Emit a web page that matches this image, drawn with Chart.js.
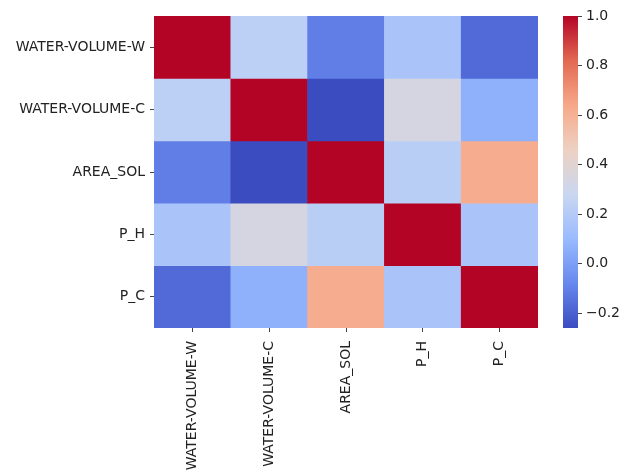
<!DOCTYPE html>
<html>
<head>
<meta charset="utf-8">
<script src="https://cdn.jsdelivr.net/npm/chart.js@4/dist/chart.umd.min.js"></script>
<style>
  body { margin: 0; background: #fff; }
  #wrap { position: relative; width: 620px; height: 470px; overflow: hidden; }
  #heat { position: absolute; left: 0; top: 0; }
  #bar { position: absolute; left: 563px; top: 0; }
</style>
</head>
<body>
<div id="wrap">
  <canvas id="heat" width="620" height="470"></canvas>
  <canvas id="bar" width="57" height="470"></canvas>
</div>
<script>
"use strict";

// названия переменных (строки и столбцы)
const names = ["WATER-VOLUME-W", "WATER-VOLUME-C", "AREA_SOL", "P_H", "P_C"];

// корреляции по строкам
const rowW = [1.0, 0.23, -0.11, 0.16, -0.17];
const rowC = [0.23, 1.0, -0.26, 0.34, 0.06];
const rowArea = [-0.11, -0.26, 1.0, 0.22, 0.62];
const rowPH = [0.16, 0.34, 0.22, 1.0, 0.16];
const rowPC = [-0.17, 0.06, 0.62, 0.16, 1.0];
const rows = [rowW, rowC, rowArea, rowPH, rowPC];

// шкала цвета
const vMin = -0.26;
const vMax = 1.0;
const barTicks = [-0.2, 0.0, 0.2, 0.4, 0.6, 0.8, 1.0];

// палитра coolwarm
const stops = ["#3b4cc0", "#6788ee", "#9abbff", "#c9d7f0", "#edd1c2", "#f7a889", "#e26952", "#b40426"];

const font = { family: "'DejaVu Sans', sans-serif", size: 14 };
const textColor = "#222";

function hexToRgb(h) {
  return [1, 3, 5].map((i) => parseInt(h.substr(i, 2), 16));
}

function colorFor(v) {
  let t = (v - vMin) / (vMax - vMin);
  t = Math.max(0, Math.min(1, t));
  const pos = t * (stops.length - 1);
  const i = Math.min(Math.floor(pos), stops.length - 2);
  const f = pos - i;
  const a = hexToRgb(stops[i]);
  const b = hexToRgb(stops[i + 1]);
  const c = a.map((x, k) => Math.round(x + (b[k] - x) * f));
  return "rgb(" + c.join(",") + ")";
}

// каждая строка - набор плавающих столбцов [r, r+1]
const datasets = rows.map((row, r) => ({
  data: row.map(() => [r, r + 1]),
  backgroundColor: row.map(colorFor),
  borderWidth: 0,
  barPercentage: 1,
  categoryPercentage: 1,
  grouped: false,
}));

new Chart(document.getElementById("heat"), {
  type: "bar",
  data: { labels: names, datasets: datasets },
  options: {
    responsive: false,
    animation: false,
    devicePixelRatio: 1,
    layout: { padding: { left: 0, top: 16, right: 82, bottom: 0 } },
    plugins: { legend: { display: false }, tooltip: { enabled: false } },
    scales: {
      x: {
        grid: { display: true, drawOnChartArea: false, offset: false, tickLength: 4, color: "#444" },
        border: { display: false },
        ticks: { font: font, color: textColor, minRotation: 90, maxRotation: 90, padding: 9, autoSkip: false },
        afterFit: (scale) => { scale.height = 142; },
      },
      y: {
        reverse: true,
        min: 0,
        max: names.length,
        grid: { display: true, drawOnChartArea: false, tickLength: 4, color: "#444" },
        border: { display: false },
        afterBuildTicks: (scale) => {
          scale.ticks = names.map((n, i) => ({ value: i + 0.5 }));
        },
        ticks: {
          font: font,
          color: textColor,
          padding: 5,
          autoSkip: false,
          callback: (value, index) => names[index],
        },
        afterFit: (scale) => { scale.width = 154; },
      },
    },
  },
});

// цветовая шкала справа
new Chart(document.getElementById("bar"), {
  type: "bar",
  data: {
    labels: [""],
    datasets: [
      {
        data: [[vMin, vMax]],
        borderWidth: 0,
        barPercentage: 1,
        categoryPercentage: 1,
        backgroundColor: (ctx) => {
          const area = ctx.chart.chartArea;
          if (!area) return null;
          const g = ctx.chart.ctx.createLinearGradient(0, area.bottom, 0, area.top);
          stops.forEach((s, i) => g.addColorStop(i / (stops.length - 1), s));
          return g;
        },
      },
    ],
  },
  options: {
    responsive: false,
    animation: false,
    devicePixelRatio: 1,
    layout: { padding: { left: 0, top: 16, right: 0, bottom: 142 } },
    plugins: { legend: { display: false }, tooltip: { enabled: false } },
    scales: {
      x: { display: false },
      y: {
        position: "right",
        min: vMin,
        max: vMax,
        grid: { display: true, drawOnChartArea: false, tickLength: 4, color: "#444" },
        border: { display: false },
        afterBuildTicks: (scale) => {
          scale.ticks = barTicks.map((v) => ({ value: v }));
        },
        ticks: {
          font: font,
          color: textColor,
          padding: 4,
          callback: (value) => value.toFixed(1).replace("-", "\u2212"),
        },
        afterFit: (scale) => { scale.width = 42; },
      },
    },
  },
});
</script>
</body>
</html>
